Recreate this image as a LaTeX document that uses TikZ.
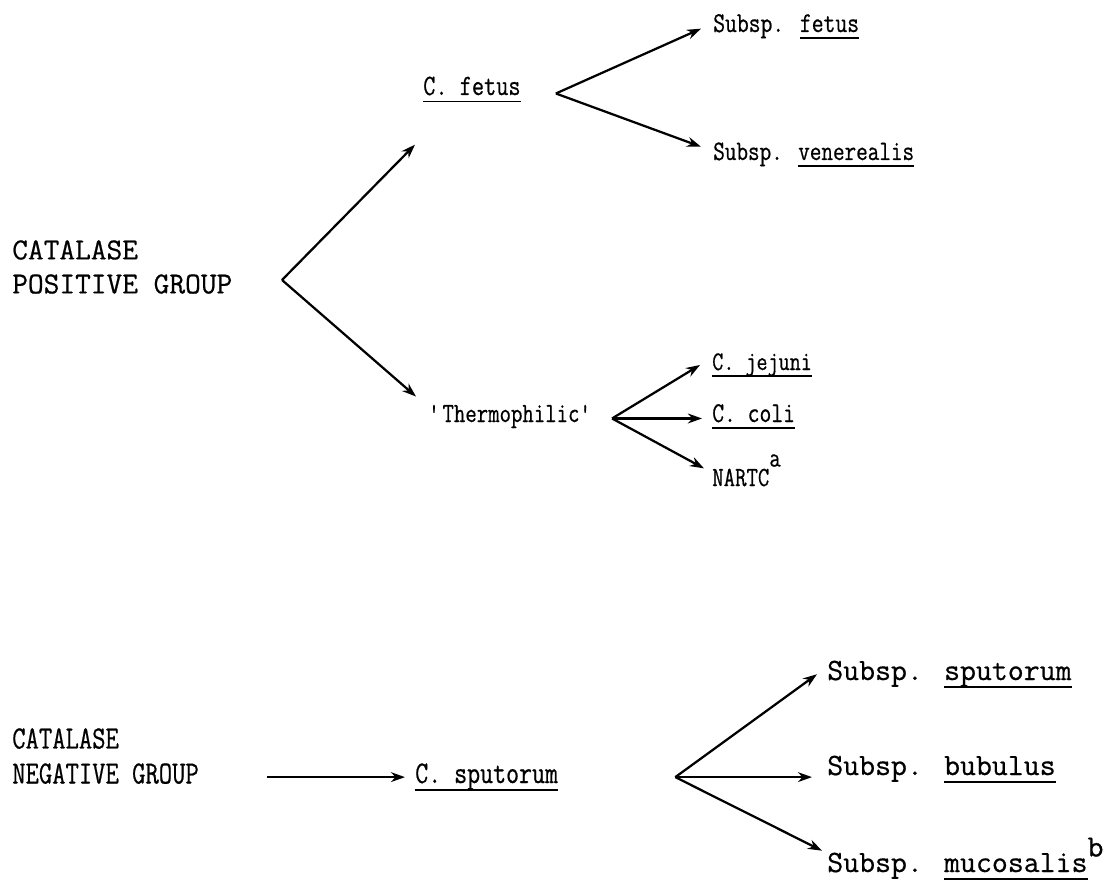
\documentclass[tikz,border=0pt]{standalone}
\usepackage{fontspec}
\usetikzlibrary{arrows.meta,calc}

% typewriter faces: normal and a little narrower
\newfontfamily\twfont[FakeBold=0.6]{Latin Modern Mono}
\newfontfamily\twnarrow[FakeStretch=0.8,FakeBold=0.6]{Latin Modern Mono}
% underlined taxon name, typewriter style
\newcommand{\taxon}[1]{\leavevmode\setbox0=\hbox{#1}\rlap{\rule[-0.25em]{\wd0}{0.06em}}\box0}
\newcommand{\upmark}[2]{\raisebox{#1}{#2}}

\begin{document}
\begin{tikzpicture}[x=0.025cm,y=-0.025cm,
    txt/.style={font=\fontsize{#1}{#1}\selectfont\twnarrow,inner sep=0pt,anchor=base west},
    wide/.style={font=\fontsize{#1}{#1}\selectfont\twfont,inner sep=0pt,anchor=base west},
    grp/.style={inner sep=0pt,anchor=north west,align=left},
    branch/.style={line width=1.6pt,-{Stealth[length=10pt,width=7pt]}}]
  \useasboundingbox (0,0) rectangle (1114,880);

    % --------------------------------------------------------- %
    % ------------- catalase positive group
    % --------------------------------------------------------- %
    \node[grp,font=\fontsize{21.7}{24.2}\selectfont\twfont] (posgroup) at (12,240) {CATALASE\\POSITIVE GROUP};
    \coordinate (posfork) at (282,280);

    \node[txt=21] (cfetus) at (423,95) {\taxon{C. fetus}};
    \node[txt=19.7] (thermo) at (428,422) {\textquotesingle Thermophilic\textquotesingle};

    \draw[branch] (posfork) -- ($(cfetus.south west)+(-8,42)$);
    \draw[branch] (posfork) -- ($(thermo.north west)+(-12,-8)$);

    % --------------------------------------------------------- %
    % ------------ C. fetus subspecies
    % --------------------------------------------------------- %
    \coordinate (fetusfork) at ($(cfetus.east)+(35,4)$);
    \node[txt=20.4] (sfetus) at (713,32) {Subsp. \taxon{fetus}};
    \node[txt=20] (svener) at (713,160) {Subsp. \taxon{venerealis}};

    \draw[branch] (fetusfork) -- ($(sfetus.west)+(-12,2)$);
    \draw[branch] (fetusfork) -- ($(svener.west)+(-12,-8)$);

    % --------------------------------------------------------- %
    % ------------ thermophilic species
    % --------------------------------------------------------- %
    \coordinate (thermofork) at ($(thermo.east)+(18,2)$);
    \node[txt=19.1] (jejuni) at (712,370) {\taxon{C. jejuni}};
    \node[txt=20.4] (coli) at (712,422) {\taxon{C. coli}};
    \node[txt=19.7] (nartc) at (712,486) {NARTC\upmark{0.7em}{a}};

    \draw[branch] (thermofork) -- ($(jejuni.west)+(-12,0)$);
    \draw[branch] (thermofork) -- ($(coli.west |- thermofork)+(-10,0)$);
    \draw[branch] (thermofork) -- ($(nartc.west)+(-8,-2)$);

    % --------------------------------------------------------- %
    % ------------ catalase negative group
    % --------------------------------------------------------- %
    \node[grp,font=\fontsize{23}{24.9}\selectfont\twnarrow] (neggroup) at (12,728) {CATALASE\\NEGATIVE GROUP};
    \node[txt=22.4] (csput) at (415,783) {\taxon{C. sputorum}};
    \draw[branch,shorten <=1.7cm,shorten >=0.25cm] (neggroup.east |- csput.west) -- (csput.west);

    \coordinate (sputfork) at ($(csput.east)+(117,0)$);
    \node[wide=22] (ssput) at (827,680) {Subsp. \taxon{sputorum}};
    \node[wide=22] (sbubul) at (827,775) {Subsp. \taxon{bubulus}};
    \node[wide=22] (smucos) at (827,872) {Subsp. \taxon{mucosalis}\upmark{0.5em}{b}};

    \draw[branch] (sputfork) -- ($(ssput.west)+(-10,0)$);
    \draw[branch] (sputfork) -- ($(sbubul.west |- sputfork)+(-15,0)$);
    \draw[branch] (sputfork) -- ($(smucos.west)+(-5,-8)$);

  \end{tikzpicture}
\end{document}
